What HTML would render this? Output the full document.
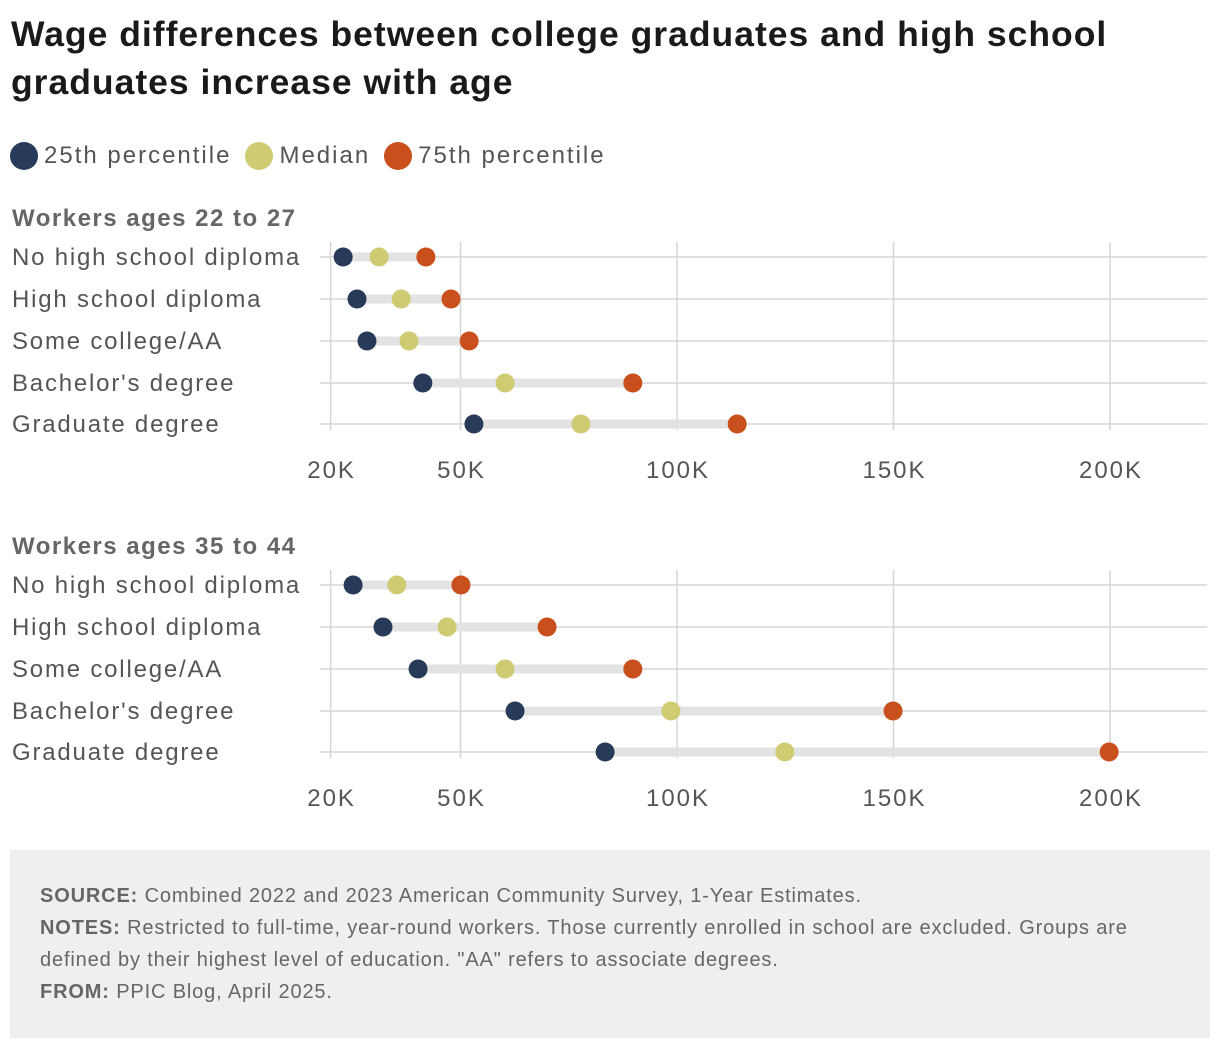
<!DOCTYPE html>
<html><head><meta charset="utf-8"><style>
body{margin:0;background:#fff;font-family:"Liberation Sans",Arial,sans-serif;}
#wrap{position:relative;width:1220px;height:1048px;overflow:hidden}
h1{position:absolute;left:11px;top:10px;margin:0;font-size:35.5px;line-height:48px;font-weight:bold;color:#1a1a1a;width:1200px;letter-spacing:1px;white-space:nowrap}
.legend{position:absolute;top:142px;left:10px;font-size:24px;color:#555;display:flex;letter-spacing:2px}
.li{display:flex;align-items:center;margin-right:14px}
.dot{width:28px;height:28px;border-radius:50%;display:inline-block;margin-right:6px}
.foot{position:absolute;left:10px;top:850px;width:1200px;height:188px;background:#eeeff0;}
.foot p{margin:0;position:absolute;left:30px;font-size:20px;color:#666;line-height:32px;width:1150px;letter-spacing:0.85px;white-space:nowrap}
</style></head><body><div id="wrap">
<h1>Wage differences between college graduates and high school<br>graduates increase with age</h1>
<div class="legend">
<div class="li"><span class="dot" style="background:#273a58"></span>25th percentile</div>
<div class="li"><span class="dot" style="background:#cfcb72"></span>Median</div>
<div class="li"><span class="dot" style="background:#c9501c"></span>75th percentile</div>
</div>
<svg id="svg" width="1220" height="850" style="position:absolute;left:0;top:0"></svg>
<div class="foot">
<p style="top:30px"><b>SOURCE:</b> Combined 2022 and 2023 American Community Survey, 1-Year Estimates.</p>
<p style="top:62px"><b>NOTES:</b> Restricted to full-time, year-round workers. Those currently enrolled in school are excluded. Groups are<br>defined by their highest level of education. "AA" refers to associate degrees.</p>
<p style="top:126px"><b>FROM:</b> PPIC Blog, April 2025.</p>
</div>
</div>
<script>
const categories=["No high school diploma","High school diploma","Some college/AA","Bachelor's degree","Graduate degree"];
const panelTitles=["Workers ages 22 to 27","Workers ages 35 to 44"];
const tickValues=[20,50,100,150,200];
const tickLabels=["20K","50K","100K","150K","200K"];
const p25Young=[22.9,26.1,28.4,41.3,53.1];
const medYoung=[31.2,36.3,38.1,60.3,77.8];
const p75Young=[42,47.8,52,89.8,113.9];
const p25Mid=[25.2,32.1,40.2,62.6,83.4];
const medMid=[35.3,46.9,60.3,98.6,124.9];
const p75Mid=[50.1,70,89.8,149.9,199.8];
const svg=document.getElementById('svg');
const NS='http://www.w3.org/2000/svg';
function x(v){return 244+v*4.33;}
function mk(t,a,p){const e=document.createElementNS(NS,t);for(const k in a)e.setAttribute(k,a[k]);p.appendChild(e);return e;}
const panels=[{top:217,rows:[257,299,341,383,424],s:[p25Young,medYoung,p75Young]},{top:545,rows:[585,627,669,711,752],s:[p25Mid,medMid,p75Mid]}];
const colors=["#273a58","#cfcb72","#c9501c"];
panels.forEach((p,pi)=>{
  const g=mk('g',{},svg);
  
  
  const t=mk('text',{x:12,y:p.top+9,'font-size':24,'font-weight':'bold',fill:'#666','letter-spacing':1.5},g);t.textContent=panelTitles[pi];
  
  
  const y0=p.rows[0]-15,y1=p.rows[4]+6;
  tickValues.forEach((v,i)=>{
    const l=mk('line',{x1:x(v),x2:x(v),y1:y0,y2:y1,stroke:'#d5d5d5','stroke-width':1.5},g);
    
    
    const tl=mk('text',{x:x(v)+1,y:y1+48,'font-size':24,fill:'#555','text-anchor':'middle','letter-spacing':2},g);tl.textContent=tickLabels[i];
    
    
  });
  p.rows.forEach((ry,i)=>{
    const hl=mk('line',{x1:320,x2:1207,y1:ry,y2:ry,stroke:'#d5d5d5','stroke-width':1.5},g);
    
    
    const lb=mk('text',{x:12,y:ry+8,'font-size':24,fill:'#555','letter-spacing':1.8},g);lb.textContent=categories[i];
    
    
    const r=mk('line',{x1:x(p.s[0][i]),x2:x(p.s[2][i]),y1:ry,y2:ry,stroke:'#e3e3e3','stroke-width':9},g);
    
    
    p.s.forEach((arr,si)=>{
      const c=mk('circle',{cx:x(arr[i]),cy:ry,r:9.5,fill:colors[si]},g);
      
      
    });
  });
});
</script></body></html>
